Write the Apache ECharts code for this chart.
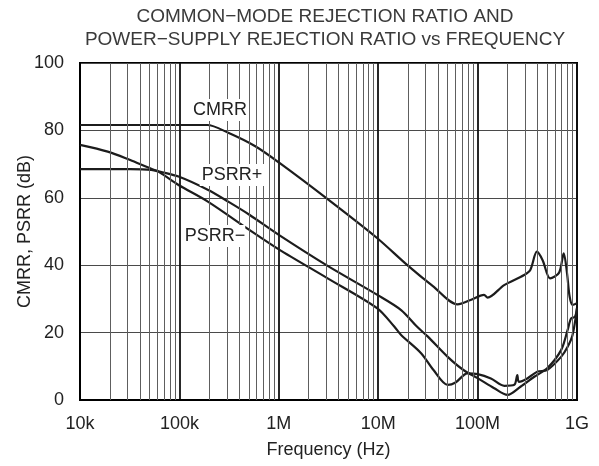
<!DOCTYPE html>
<html><head><meta charset="utf-8">
<script src="https://cdn.jsdelivr.net/npm/echarts@6/dist/echarts.min.js"></script>
<style>html,body{margin:0;padding:0;background:#fff}#c{width:599px;height:466px}</style>
</head><body><div id="c"></div>
<script>
// ---- data ----
const titleLines = ['COMMON\u2212MODE REJECTION RATIO AND', 'POWER\u2212SUPPLY REJECTION RATIO vs FREQUENCY'];
const xTickValues = [1e4, 1e5, 1e6, 1e7, 1e8, 1e9];
const xTickLabels = ['10k', '100k', '1M', '10M', '100M', '1G'];
const yTicks = [0, 20, 40, 60, 80, 100];
const xAxisName = 'Frequency (Hz)';
const yAxisName = 'CMRR, PSRR (dB)';
const seriesNames = ['CMRR', 'PSRR+', 'PSRR\u2212'];

const cmrrFreq = [1e4, 3.2e4, 1e5, 1.9e5, 3.1e5, 5.8e5, 1e6, 3.1e6, 9.8e6, 1.95e7, 3.55e7, 6.3e7, 8.5e7, 1.16e8, 1.26e8, 1.85e8, 2.94e8, 3.39e8, 3.95e8, 4.51e8, 5.37e8, 6.61e8, 7.35e8, 7.94e8, 8.43e8, 9.04e8, 1e9];
const cmrrDb   = [81.6, 81.6, 81.6, 81.6, 79.3, 75.3, 70.5, 59.6, 48.0, 40.1, 33.8, 28.4, 29.7, 31.2, 30.4, 34.1, 37.1, 38.6, 44.0, 41.5, 36.1, 37.8, 43.5, 37.6, 30.7, 28.2, 28.7];

const psrrPFreq = [1e4, 1.9e4, 3.2e4, 5.7e4, 9.8e4, 1.95e5, 3.16e5, 5.1e5, 1e6, 3.1e6, 9.8e6, 1.7e7, 2.45e7, 3.16e7, 5e7, 7.2e7, 1e8, 1.47e8, 2e8, 2.72e8, 3.72e8, 5.01e8, 6.92e8, 8.05e8, 8.71e8, 9.55e8, 1e9];
const psrrPDb   = [75.7, 73.7, 71.2, 68.2, 66.3, 62.3, 58.7, 54.9, 49.0, 39.8, 31.2, 26.7, 21.8, 18.8, 12.8, 8.9, 6.5, 3.5, 1.5, 4.0, 6.9, 9.4, 14.8, 20.8, 24.2, 24.7, 27.3];

const psrrMFreq = [1e4, 3.2e4, 5.2e4, 6.2e4, 9.8e4, 1.95e5, 5.1e5, 1e6, 3.1e6, 9.8e6, 1.45e7, 1.7e7, 2.7e7, 3.6e7, 5e7, 6e7, 7.9e7, 1e8, 1.36e8, 1.86e8, 2.34e8, 2.51e8, 2.6e8, 3.16e8, 3.98e8, 5.01e8, 6.92e8, 8.05e8, 9.02e8, 1e9];
const psrrMDb   = [68.5, 68.5, 68.3, 67.7, 63.8, 58.8, 50.4, 44.7, 36.1, 27.2, 21.8, 19.3, 13.9, 8.9, 4.5, 5.2, 7.9, 7.7, 6.4, 4.2, 4.5, 7.4, 5.4, 6.4, 8.4, 8.9, 12.8, 15.8, 19.3, 27.2];

// minor log grid multipliers (2..9 within each decade)
const minorMultipliers = [2, 3, 4, 5, 6, 7, 8, 9];

// ---- build chart ----
const pairs = (f, v) => f.map((x, i) => [x, v[i]]);
const minorLines = [];
xTickValues.slice(0, -1).forEach(d => minorMultipliers.forEach(m => minorLines.push({ xAxis: d * m })));

const FONT = 'Liberation Sans, Arial, Helvetica, sans-serif';
const lineStyle = { color: '#1c1c1c', width: 2.2 };

const chart = echarts.init(document.getElementById('c'), null, { renderer: 'canvas' });
chart.setOption({
  animation: false,
  backgroundColor: '#fff',
  title: {
    text: titleLines.join('\n'),
    left: 325, top: 5, padding: 0, textAlign: 'center',
    textStyle: { fontFamily: FONT, fontSize: 19, fontWeight: 'normal', color: '#3a3a3a', lineHeight: 23 }
  },
  grid: { left: 80, right: 22, top: 63, bottom: 66, outerBoundsMode: 'none', show: true, borderColor: '#000', borderWidth: 2, backgroundColor: 'transparent' },
  xAxis: {
    type: 'log', logBase: 10, min: 1e4, max: 1e9, splitNumber: 5,
    name: xAxisName, nameLocation: 'middle', nameGap: 41, nameMoveOverlap: false,
    nameTextStyle: { fontFamily: FONT, fontSize: 18, color: '#222' },
    axisLine: { show: true, lineStyle: { color: '#000', width: 2 } },
    axisTick: { show: false },
    axisLabel: {
      fontFamily: FONT, fontSize: 18, color: '#222', margin: 15,
      formatter: v => { const i = xTickValues.findIndex(t => Math.abs(Math.log10(t) - Math.log10(v)) < 1e-6); return i >= 0 ? xTickLabels[i] : ''; }
    },
    splitLine: { show: true, lineStyle: { color: '#111', width: 1.8 } }
  },
  yAxis: {
    type: 'value', min: yTicks[0], max: yTicks[yTicks.length - 1], interval: yTicks[1] - yTicks[0],
    name: yAxisName, nameLocation: 'middle', nameGap: 46, nameMoveOverlap: false,
    nameTextStyle: { fontFamily: FONT, fontSize: 18, color: '#222' },
    axisLine: { show: true, lineStyle: { color: '#000', width: 2 } },
    axisTick: { show: false },
    axisLabel: { fontFamily: FONT, fontSize: 18, color: '#222', margin: 16 },
    splitLine: { show: true, lineStyle: { color: '#4a4a4a', width: 1.2 } }
  },
  series: [
    {
      type: 'line', name: 'minor-grid', data: [], z: 1, silent: true,
      markLine: {
        silent: true, symbol: ['none', 'none'], label: { show: false }, animation: false,
        lineStyle: { color: '#5e5e5e', width: 1, type: 'solid' },
        emphasis: { disabled: true },
        data: minorLines
      }
    },
    { type: 'line', name: seriesNames[0], data: pairs(cmrrFreq, cmrrDb), showSymbol: false, smooth: 0.3, lineStyle, z: 3 },
    { type: 'line', name: seriesNames[1], data: pairs(psrrPFreq, psrrPDb), showSymbol: false, smooth: 0.3, lineStyle, z: 3 },
    { type: 'line', name: seriesNames[2], data: pairs(psrrMFreq, psrrMDb), showSymbol: false, smooth: 0.3, lineStyle, z: 3 }
  ],
  graphic: [
    { type: 'text', x: 220, y: 110, z: 10, style: { text: seriesNames[0], font: '18px ' + FONT, fill: '#222', align: 'center', verticalAlign: 'middle', backgroundColor: '#fff', padding: [2, 2] } },
    { type: 'text', x: 232, y: 175, z: 10, style: { text: seriesNames[1], font: '18px ' + FONT, fill: '#222', align: 'center', verticalAlign: 'middle', backgroundColor: '#fff', padding: [2, 2] } },
    { type: 'text', x: 215, y: 236, z: 10, style: { text: seriesNames[2], font: '18px ' + FONT, fill: '#222', align: 'center', verticalAlign: 'middle', backgroundColor: '#fff', padding: [2, 0] } }
  ]
});
</script></body></html>
